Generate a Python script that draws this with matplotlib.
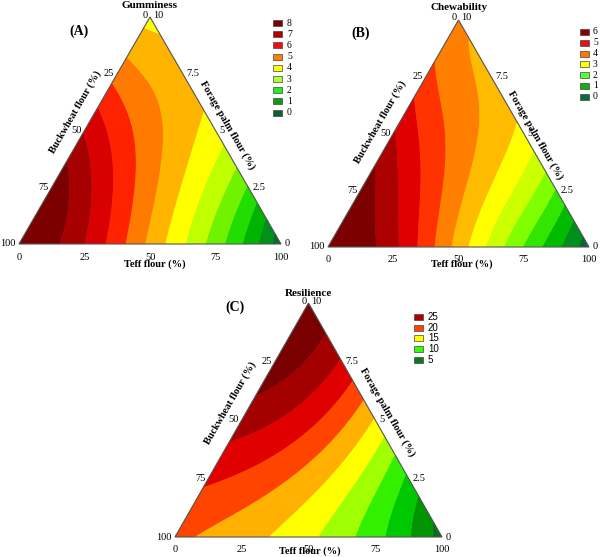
import numpy as np
import matplotlib
matplotlib.use("Agg")
import matplotlib.pyplot as plt
import matplotlib.tri as mtri
from matplotlib.patches import Rectangle, Polygon

# ---------------- values ----------------
# Each point: teff flour (%), forage palm flour (axis units 0-10), response.
# Buckwheat flour is the remainder of the mixture triangle.
gum_teff = [0, 13.5, 24, 35.5, 42, 48, 54, 62.5, 71, 79, 86, 92, 96, 100,
            0, 0, 0, 0, 0, 0, 0,
            94, 88, 83, 74, 66, 57, 37, 22, 10,
            32.3, 40.5, 21, 12.6, 24.2, 9.8, 58.7, 33.3]
gum_palm = [0, 0, 0, 0, 0, 0, 0, 0, 0, 0, 0, 0, 0, 0,
            3.6, 5.0, 5.9, 7.15, 8.25, 9.4, 10,
            0.6, 1.2, 1.7, 2.6, 3.4, 4.3, 6.3, 7.8, 9.0,
            4.57, 2.67, 6.33, 4.43, 2.23, 1.94, 2.08, 3.33]
gum_val = [7.7, 7.2, 6.6, 6.0, 5.4, 4.8, 4.2, 3.6, 3.0, 2.4, 1.8, 1.2, 0.6, 0.2,
           7.2, 6.6, 6.0, 5.4, 4.8, 4.2, 4.05,
           0.6, 1.2, 1.8, 2.4, 3.0, 3.6, 4.2, 4.5, 4.2,
           4.8, 4.8, 4.8, 6.0, 6.0, 7.2, 3.6, 5.0]

chew_teff = [0, 20, 27, 34, 40, 47, 54, 61, 68, 75, 81, 89, 96, 100,
             0, 0, 0, 0, 0,
             96, 90, 82, 72, 65, 58, 50, 25, 5,
             28, 19.4, 6.9, 33.3, 73.5, 59.5, 89.5, 50]
chew_palm = [0, 0, 0, 0, 0, 0, 0, 0, 0, 0, 0, 0, 0, 0,
             3.8, 5.0, 6.6, 8.2, 10,
             0.4, 1.0, 1.8, 2.8, 3.5, 4.2, 5.0, 7.5, 9.5,
             6.03, 3.53, 2.06, 3.33, 1.4, 2.1, 0.5, 2.5]
chew_val = [6.3, 6.0, 5.5, 5.0, 4.5, 4.0, 3.5, 3.0, 2.5, 2.0, 1.5, 1.0, 0.5, 0.1,
            6.0, 5.5, 5.0, 4.5, 4.2,
            0.5, 1.0, 1.5, 2.0, 2.5, 3.0, 3.5, 3.8, 4.0,
            4.0, 5.0, 6.0, 4.1, 2.0, 3.0, 1.0, 3.5]

res_teff = [0, 7, 36, 53, 67, 79, 89, 96, 100,
            0, 0, 0, 0,
            94, 83, 73, 63, 56, 50, 43, 34, 22, 12,
            33.3]
res_palm = [0, 0, 0, 0, 0, 0, 0, 0, 0,
            2.1, 4.1, 6.0, 10,
            0.6, 1.7, 2.7, 3.7, 4.4, 5.0, 5.7, 6.6, 7.8, 8.8,
            3.33]
res_val = [20.5, 20, 17.5, 15, 12.5, 10, 7.5, 5, 3.8,
           22.5, 25, 27.5, 29.5,
           5, 7.5, 10, 12.5, 15, 17.5, 20, 22.5, 25, 27.5,
           20.3]

axis_ticks_teff = [0, 25, 50, 75, 100]
axis_ticks_buck = [100, 75, 50, 25]
axis_ticks_palm = [0, 2.5, 5, 7.5]

gum_levels = [0, 0.6, 1.2, 1.8, 2.4, 3.0, 3.6, 4.2, 4.8, 5.4, 6.0, 6.6, 7.2, 7.8, 8.4]
chew_levels = [0, 0.5, 1, 1.5, 2, 2.5, 3, 3.5, 4, 4.5, 5, 5.5, 6, 6.5]
res_levels = [2.5, 5, 7.5, 10, 12.5, 15, 17.5, 20, 22.5, 25, 27.5, 30]

gum_legend = ["8", "7", "6", "5", "4", "3", "2", "1", "0"]
chew_legend = ["6", "5", "4", "3", "2", "1", "0"]
res_legend = ["25", "20", "15", "10", "5"]

# ---------------- styles ----------------
gum_colors = ['#0b6b2b', '#008f1a', '#00b300', '#22dd00', '#70f200', '#c0ff00',
              '#ffff00', '#ffb400', '#ff7a00', '#ff2200', '#d80000', '#a60000',
              '#7c0000', '#6a0000']
gum_leg_colors = ['#7d0000', '#b00000', '#ee1010', '#ff7f00', '#ffff00',
                  '#b0ff30', '#22ee22', '#109a10', '#0d6030']
chew_colors = ['#0b6633', '#008f1a', '#00bb00', '#33e600', '#80ff00', '#ccff00',
               '#ffff00', '#ffbb00', '#ff8000', '#ff3300', '#e00000', '#ac0000',
               '#7c0000']
chew_leg_colors = ['#8b0000', '#ee1010', '#ff7700', '#ffff00', '#55ff33',
                   '#10b010', '#0a6a3a']
res_colors = ['#0a6e1e', '#009400', '#00c800', '#33f000', '#a0ff00', '#ffff00',
              '#ffb000', '#ff4400', '#e00000', '#a40000', '#7a0000']
res_leg_colors = ['#b00000', '#ff4400', '#ffff00', '#33ff00', '#087a20']

SERIF = ['Liberation Serif', 'DejaVu Serif']
SANS = ['Liberation Sans', 'DejaVu Sans']
S3 = np.sqrt(3) / 2
W, H = 600, 557

fig = plt.figure(figsize=(6, 5.57), dpi=100)


def monomials(T, B, F, deg):
    cols = []
    for a in range(deg + 1):
        for b in range(deg + 1 - a):
            c = deg - a - b
            cols.append(T ** a * B ** b * F ** c)
    return np.stack(cols, axis=-1)


def fit_surface(teff, palm, val, deg):
    T = np.asarray(teff, float) / 100
    F = np.asarray(palm, float) / 10
    B = 1 - T - F
    coef, *_ = np.linalg.lstsq(monomials(T, B, F, deg), np.asarray(val, float), rcond=None)
    return coef


n = 160
I, J = np.meshgrid(np.arange(n + 1), np.arange(n + 1))
m = (I + J) <= n
GT = I[m] / n
GF = J[m] / n
GB = 1 - GT - GF
gx = GT + GF / 2
gy = GF * S3
triang = mtri.Triangulation(gx, gy)


def panel(bl_x, bl_y, br_x, apex_y, teff, palm, val, deg, levels, colors,
          title, tag, tag_xy, title_xy, lab_teff, lab_buck, lab_palm,
          leg_labels, leg_colors, leg_x, leg_y0, leg_dy, leg_font, leg_gap):
    ax = fig.add_axes([bl_x / W, 1 - bl_y / H, (br_x - bl_x) / W, (bl_y - apex_y) / H])
    ax.set_xlim(0, 1)
    ax.set_ylim(0, S3)
    ax.axis('off')
    coef = fit_surface(teff, palm, val, deg)
    Z = monomials(GT, GB, GF, deg) @ coef
    eps = 1e-6
    Z = np.clip(Z, levels[0] + eps, levels[-1] - eps)
    ax.tricontourf(triang, Z, levels=levels, colors=colors, antialiased=True)
    ax.tricontourf(triang, Z, levels=levels, colors=colors, antialiased=True)
    ax.add_patch(Polygon([[0, 0], [1, 0], [0.5, S3]], closed=True, fill=False,
                         edgecolor='#555555', lw=0.8, zorder=5, clip_on=False))
    fs = 7.5
    for v in axis_ticks_teff:
        ax.annotate(str(v), (v / 100, 0), xytext=(0, -13), textcoords='offset pixels',
                    ha='center', va='center', fontsize=fs, family=SERIF,
                    annotation_clip=False)
    for v in axis_ticks_buck:
        f = 1 - v / 100
        ax.annotate(str(v), (f / 2, f * S3), xytext=(-3, 0), textcoords='offset pixels',
                    ha='right', va='center', fontsize=fs, family=SERIF,
                    annotation_clip=False)
    for v in axis_ticks_palm:
        f = v / 10
        ax.annotate(f"{v:g}", (1 - f / 2, f * S3), xytext=(4, 0), textcoords='offset pixels',
                    ha='left', va='center', fontsize=fs, family=SERIF,
                    annotation_clip=False)
    ax.annotate("0", (0.5, S3), xytext=(-2, 2), textcoords='offset pixels',
                ha='right', va='center', fontsize=fs, family=SERIF, annotation_clip=False)
    ax.annotate("10", (0.5, S3), xytext=(3, 2), textcoords='offset pixels',
                ha='left', va='center', fontsize=fs, family=SERIF, annotation_clip=False)

    def ptext(x, y, s, **kw):
        fig.text(x / W, 1 - y / H, s, **kw)

    ptext(title_xy[0], title_xy[1], title, ha='center', va='center', fontsize=8,
          fontweight='bold', family=SERIF)
    ptext(tag_xy[0], tag_xy[1], tag, ha='center', va='center', fontsize=10,
          fontweight='bold', family=SERIF)
    ptext(lab_teff[0], lab_teff[1], "Teff flour (%)", ha='center', va='center',
          fontsize=7.5, fontweight='bold', family=SERIF)
    ptext(lab_buck[0], lab_buck[1], "Buckwheat flour (%)", ha='center', va='center',
          fontsize=7.5, fontweight='bold', family=SERIF, rotation=60,
          rotation_mode='anchor')
    ptext(lab_palm[0], lab_palm[1], "Forage palm flour (%)", ha='center', va='center',
          fontsize=7.5, fontweight='bold', family=SERIF, rotation=-60,
          rotation_mode='anchor')
    for k, (lab, col) in enumerate(zip(leg_labels, leg_colors)):
        yc = leg_y0 + k * leg_dy
        fig.patches.append(Rectangle((leg_x / W, 1 - (yc + 3) / H), 9 / W, 6 / H,
                                     facecolor=col, edgecolor='#444444', lw=0.5,
                                     transform=fig.transFigure, figure=fig))
        ptext(leg_x + leg_gap, yc, lab, ha='left', va='center', fontsize=7,
              family=leg_font)


panel(19, 244, 281, 17, gum_teff, gum_palm, gum_val, 4, gum_levels, gum_colors,
      "Gumminess", "(A)", (79, 31), (150, 5), (155, 264), (75, 112), (227, 125),
      gum_legend, gum_leg_colors, 273, 23, 11.2, SERIF, 14)
panel(328, 247, 589, 20, chew_teff, chew_palm, chew_val, 4, chew_levels, chew_colors,
      "Chewability", "(B)", (361, 33), (459, 7), (462, 264), (380, 122), (535, 135),
      chew_legend, chew_leg_colors, 580, 32, 10.8, SERIF, 13)
panel(175, 537, 442, 303, res_teff, res_palm, res_val, 3, res_levels, res_colors,
      "Resilience", "(C)", (235, 307), (308, 294), (310, 551), (230, 403), (387, 412),
      res_legend, res_leg_colors, 414, 317, 10.7, SANS, 14)

fig.savefig("out.png", dpi=100, facecolor='white')
